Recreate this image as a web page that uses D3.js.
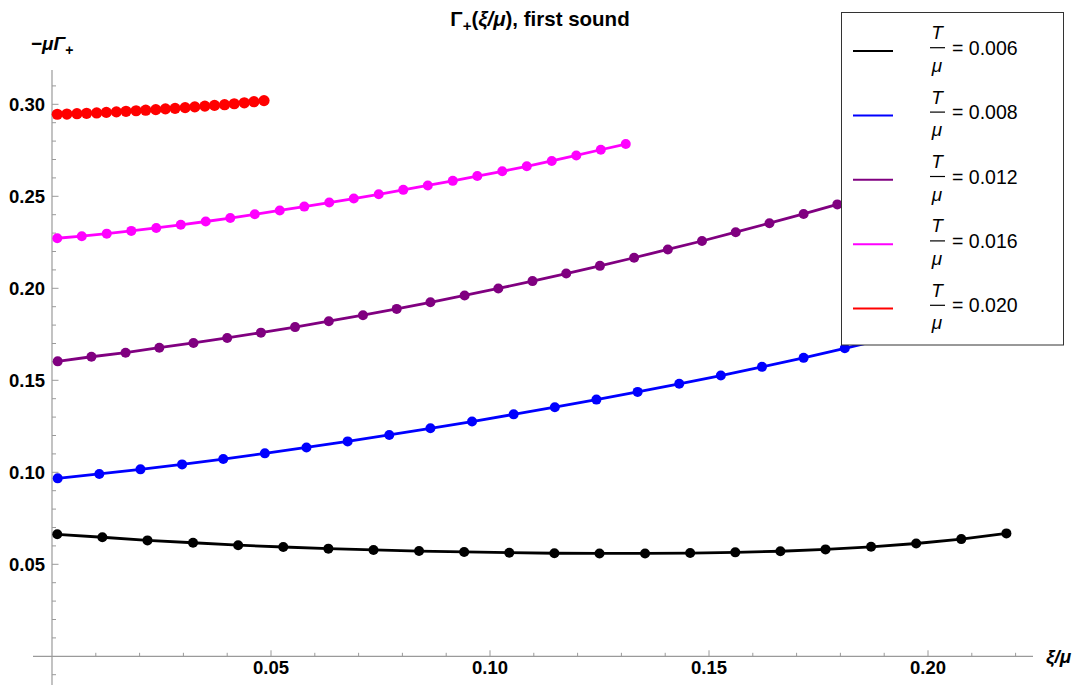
<!DOCTYPE html>
<html><head><meta charset="utf-8">
<script src="https://cdn.jsdelivr.net/npm/d3@7/dist/d3.min.js"></script>
<style>
html,body{margin:0;padding:0;background:#fff;}
svg{display:block;font-family:"Liberation Sans",Arial,sans-serif;}
</style></head>
<body>
<svg id="chart" width="1083" height="685"></svg>
<script>
// ---- data ----
const legendLabels = ["0.006", "0.008", "0.012", "0.016", "0.020"];
const seriesColors = ["#000000", "#0000ff", "#800080", "#ff00ff", "#ff0000"];

const blackX = [0.0012,0.0115,0.0218,0.0322,0.0425,0.0528,0.0631,0.0734,0.0838,0.0941,0.1044,0.1147,0.1250,0.1354,0.1457,0.1560,0.1663,0.1766,0.1870,0.1973,0.2076,0.2179];
const blackY = [0.0663,0.0647,0.0630,0.0617,0.0604,0.0594,0.0585,0.0578,0.0572,0.0567,0.0563,0.0560,0.0559,0.0559,0.0561,0.0565,0.0571,0.0581,0.0595,0.0613,0.0637,0.0668];

const blueX = [0.0013,0.0108,0.0202,0.0297,0.0391,0.0486,0.0581,0.0675,0.0770,0.0864,0.0959,0.1054,0.1148,0.1243,0.1337,0.1432,0.1527,0.1621,0.1716,0.1810,0.1905,0.2000];
const blueY = [0.0967,0.0991,0.1016,0.1043,0.1072,0.1103,0.1135,0.1168,0.1203,0.1239,0.1276,0.1315,0.1354,0.1395,0.1437,0.1481,0.1526,0.1573,0.1622,0.1674,0.1728,0.1785];

const purpleX = [0.0013,0.0090,0.0168,0.0245,0.0323,0.0400,0.0477,0.0555,0.0632,0.0710,0.0787,0.0864,0.0942,0.1019,0.1097,0.1174,0.1251,0.1329,0.1406,0.1484,0.1561,0.1638,0.1716,0.1793,0.1871,0.1948];
const purpleY = [0.1603,0.1628,0.1650,0.1677,0.1703,0.1730,0.1759,0.1789,0.1821,0.1854,0.1888,0.1924,0.1961,0.1999,0.2039,0.2080,0.2122,0.2166,0.2211,0.2257,0.2305,0.2354,0.2404,0.2456,0.2510,0.2566];

const magentaX = [0.0012,0.0068,0.0125,0.0181,0.0238,0.0294,0.0351,0.0407,0.0463,0.0520,0.0576,0.0633,0.0689,0.0746,0.0802,0.0858,0.0915,0.0971,0.1028,0.1084,0.1141,0.1197,0.1253,0.1310];
const magentaY = [0.2272,0.2283,0.2297,0.2312,0.2328,0.2345,0.2363,0.2382,0.2402,0.2423,0.2444,0.2466,0.2488,0.2511,0.2535,0.2559,0.2584,0.2610,0.2636,0.2663,0.2692,0.2722,0.2753,0.2784];

const redX = [0.0012,0.0034,0.0057,0.0079,0.0102,0.0124,0.0147,0.0169,0.0192,0.0214,0.0237,0.0259,0.0281,0.0304,0.0326,0.0349,0.0371,0.0394,0.0416,0.0439,0.0461,0.0484];
const redY = [0.2946,0.2947,0.2949,0.2951,0.2953,0.2956,0.2959,0.2962,0.2965,0.2968,0.2971,0.2975,0.2978,0.2982,0.2986,0.2990,0.2994,0.2998,0.3003,0.3008,0.3014,0.3020];

const xMajorTicks = [0.05, 0.10, 0.15, 0.20];
const xTickLabels = ["0.05", "0.10", "0.15", "0.20"];
const yMajorTicks = [0.05, 0.10, 0.15, 0.20, 0.25, 0.30];
const yTickLabels = ["0.05", "0.10", "0.15", "0.20", "0.25", "0.30"];

const seriesX = [blackX, blueX, purpleX, magentaX, redX];
const seriesY = [blackY, blueY, purpleY, magentaY, redY];

// ---- scales ----
const x = d3.scaleLinear().domain([0, 0.2]).range([52, 928]);
const y = d3.scaleLinear().domain([0, 0.3]).range([656.3, 104.3]);
const xMin = x.invert(33), xMax = x.invert(1033);
const yMin = y.invert(685), yMax = y.invert(70);

const svg = d3.select("#chart");
const axisColor = "#9a9a9a";

// axes lines
svg.append("line").attr("x1", x(xMin)).attr("x2", x(xMax)).attr("y1", y(0)).attr("y2", y(0))
  .attr("stroke", axisColor).attr("stroke-width", 1.2);
svg.append("line").attr("x1", x(0)).attr("x2", x(0)).attr("y1", y(yMin)).attr("y2", y(yMax))
  .attr("stroke", axisColor).attr("stroke-width", 1.2);

// x ticks
const xMinor = d3.range(1, 23).map(i => i / 100);
svg.append("g").selectAll("line").data(xMinor).join("line")
  .attr("x1", d => x(d)).attr("x2", d => x(d))
  .attr("y1", y(0)).attr("y2", d => y(0) - (Math.abs(d * 20 - Math.round(d * 20)) < 1e-6 ? 6 : 3.5))
  .attr("stroke", axisColor).attr("stroke-width", 1);
svg.append("g").selectAll("text").data(xMajorTicks).join("text")
  .attr("x", d => x(d)).attr("y", 674).attr("text-anchor", "middle")
  .attr("font-size", 18.5).attr("font-weight", "bold").attr("fill", "#000")
  .text((d, i) => xTickLabels[i]);

// y ticks
const yMinor = d3.range(-1, 32).filter(i => i !== 0).map(i => i / 100);
svg.append("g").selectAll("line").data(yMinor).join("line")
  .attr("y1", d => y(d)).attr("y2", d => y(d))
  .attr("x1", x(0)).attr("x2", d => x(0) + (Math.abs(d * 20 - Math.round(d * 20)) < 1e-6 ? 6.5 : 4))
  .attr("stroke", axisColor).attr("stroke-width", 1);
svg.append("g").selectAll("text").data(yMajorTicks).join("text")
  .attr("x", 45).attr("y", d => y(d) + 6.5).attr("text-anchor", "end")
  .attr("font-size", 18.5).attr("font-weight", "bold").attr("fill", "#000")
  .text((d, i) => yTickLabels[i]);

// axis labels
const yl = svg.append("text").attr("x", 31).attr("y", 50).attr("font-size", 19).attr("font-weight", "bold");
yl.append("tspan").text("\u2212");
yl.append("tspan").attr("font-style", "italic").text("\u03bc\u0393");
yl.append("tspan").attr("font-size", 14).attr("dy", 5).text("+");

const xl = svg.append("text").attr("x", 1046).attr("y", 663).attr("font-size", 19).attr("font-weight", "bold")
  .attr("font-style", "italic");
xl.append("tspan").text("\u03be/\u03bc");

// title
const tt = svg.append("text").attr("x", 540).attr("y", 26).attr("text-anchor", "middle")
  .attr("font-size", 20.5).attr("font-weight", "bold");
tt.append("tspan").text("\u0393");
tt.append("tspan").attr("font-size", 15).attr("dy", 5).text("+");
tt.append("tspan").attr("dy", -5).text("(");
tt.append("tspan").attr("font-style", "italic").text("\u03be/\u03bc");
tt.append("tspan").text("), first sound");

// series
const line = d3.line().x(d => x(d[0])).y(d => y(d[1]));
seriesX.forEach((xs, s) => {
  const pts = xs.map((v, i) => [v, seriesY[s][i]]);
  const g = svg.append("g");
  g.append("path").datum(pts).attr("d", line).attr("fill", "none")
    .attr("stroke", seriesColors[s]).attr("stroke-width", 2.8).attr("stroke-linejoin", "round");
  g.selectAll("circle").data(pts).join("circle")
    .attr("cx", d => x(d[0])).attr("cy", d => y(d[1]))
    .attr("r", s === 4 ? 5.6 : 5).attr("fill", seriesColors[s]);
});

// legend
const lg = svg.append("g");
lg.append("rect").attr("x", 841.5).attr("y", 12.5).attr("width", 222).attr("height", 332.5)
  .attr("fill", "#fff").attr("stroke", "#333").attr("stroke-width", 1);
legendLabels.forEach((lab, i) => {
  const cy = 47.7 + i * 64.4;
  lg.append("line").attr("x1", 853).attr("x2", 893).attr("y1", cy + 3.3).attr("y2", cy + 3.3)
    .attr("stroke", seriesColors[i]).attr("stroke-width", 2);
  lg.append("text").attr("x", 937).attr("y", cy - 8.5).attr("text-anchor", "middle")
    .attr("font-size", 19).attr("font-style", "italic").text("T");
  lg.append("line").attr("x1", 930).attr("x2", 945).attr("y1", cy).attr("y2", cy)
    .attr("stroke", "#000").attr("stroke-width", 1.2);
  lg.append("text").attr("x", 937).attr("y", cy + 24).attr("text-anchor", "middle")
    .attr("font-size", 19).attr("font-style", "italic").text("\u03bc");
  lg.append("text").attr("x", 952).attr("y", cy + 7)
    .attr("font-size", 19.5).text("= " + lab);
});
</script>
</body></html>
